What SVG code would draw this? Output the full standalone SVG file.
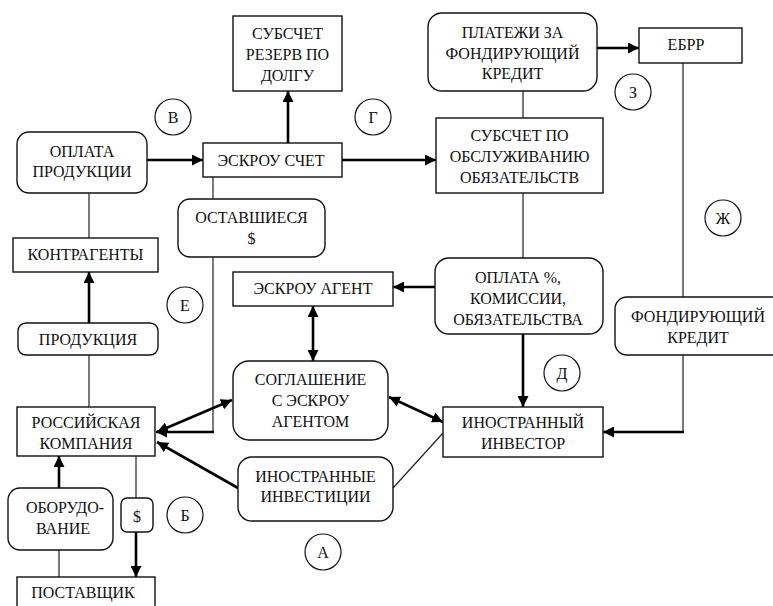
<svg xmlns="http://www.w3.org/2000/svg" width="773" height="606" viewBox="0 0 773 606">
<style>
text{font-family:"Liberation Serif","Times New Roman",serif;font-size:16px;fill:#111;text-anchor:middle}
.b{fill:#fff;stroke:#111;stroke-width:1.4}
.c{fill:#fff;stroke:#111;stroke-width:1.2}
.t{fill:none;stroke:#222;stroke-width:1.2}
.k{fill:none;stroke:#000;stroke-width:2.6}
.a{marker-end:url(#ah)}
.d{marker-start:url(#ah);marker-end:url(#ah)}
</style>
<defs>
<marker id="ah" markerUnits="userSpaceOnUse" markerWidth="12" markerHeight="11" refX="11" refY="5.5" orient="auto-start-reverse"><path d="M0,0 L11,5.5 L0,11 z" fill="#000"/></marker>
</defs>
<g id="connectors">
<line class="t" x1="213" y1="177" x2="213" y2="199"/>
<line class="t" x1="89" y1="193" x2="89" y2="238"/>
<line class="t" x1="523" y1="91" x2="523" y2="118"/>
<line class="t" x1="523" y1="193" x2="523" y2="258"/>
<line class="t" x1="683" y1="63" x2="683" y2="297"/>
<line class="t" x1="683" y1="355" x2="683" y2="433"/>
<line class="t" x1="213" y1="257" x2="213" y2="433"/>
<line class="t" x1="89" y1="355" x2="89" y2="407"/>
<line class="t" x1="136" y1="456" x2="136" y2="498"/>
<line class="t" x1="59" y1="550" x2="59" y2="577"/>
<line class="t" x1="443" y1="433" x2="393" y2="488"/>
<line class="k a" x1="147" y1="160" x2="203" y2="160"/>
<line class="k a" x1="288" y1="143" x2="288" y2="91"/>
<line class="k a" x1="342" y1="160" x2="436" y2="160"/>
<line class="k a" x1="597" y1="48" x2="639" y2="48"/>
<line class="k a" x1="435" y1="287" x2="393" y2="287"/>
<line class="k d" x1="313" y1="306" x2="313" y2="361"/>
<line class="k a" x1="523" y1="334" x2="523" y2="407"/>
<polyline class="k a" points="684,432 603,432"/>
<line class="k a" x1="89" y1="323" x2="89" y2="272"/>
<polyline class="k a" points="214,432 156,432"/>
<line class="k d" x1="232" y1="400" x2="157" y2="432"/>
<line class="k a" x1="238" y1="488" x2="157" y2="442"/>
<line class="k a" x1="59" y1="488" x2="59" y2="456"/>
<line class="k a" x1="136" y1="532" x2="136" y2="577"/>
<line class="k d" x1="389" y1="397" x2="443" y2="422"/>
</g>
<g id="n-reserve"><rect class="b" x="233" y="16" width="109" height="75"/><text x="287.5" y="39">СУБСЧЕТ</text><text x="287.5" y="60">РЕЗЕРВ ПО</text><text x="287.5" y="81">ДОЛГУ</text></g>
<g id="n-platezhi"><rect class="b" x="428" y="13" width="169" height="78" rx="14"/><text x="512.5" y="38">ПЛАТЕЖИ ЗА</text><text x="512.5" y="59">ФОНДИРУЮЩИЙ</text><text x="512.5" y="79">КРЕДИТ</text></g>
<g id="n-ebrr"><rect class="b" x="639" y="28" width="103" height="35"/><text x="686" y="50">ЕБРР</text></g>
<g id="n-oplata-prod"><rect class="b" x="17" y="132" width="130" height="61" rx="12"/><text x="82" y="157">ОПЛАТА</text><text x="82" y="177">ПРОДУКЦИИ</text></g>
<g id="n-escrow"><rect class="b" x="203" y="143" width="139" height="34"/><text x="271" y="166">ЭСКРОУ СЧЕТ</text></g>
<g id="n-obsl"><rect class="b" x="436" y="118" width="167" height="75"/><text x="519.5" y="141">СУБСЧЕТ ПО</text><text x="519.5" y="162">ОБСЛУЖИВАНИЮ</text><text x="519.5" y="183">ОБЯЗАТЕЛЬСТВ</text></g>
<g id="n-ostav"><rect class="b" x="178" y="199" width="147" height="58" rx="12"/><text x="251.5" y="223">ОСТАВШИЕСЯ</text><text x="251.5" y="244">$</text></g>
<g id="n-kontr"><rect class="b" x="13" y="238" width="145" height="34"/><text x="85.5" y="260">КОНТРАГЕНТЫ</text></g>
<g id="n-agent"><rect class="b" x="233" y="272" width="160" height="34"/><text x="313" y="294">ЭСКРОУ АГЕНТ</text></g>
<g id="n-oplata-pct"><rect class="b" x="435" y="258" width="168" height="76" rx="14"/><text x="518" y="283">ОПЛАТА %,</text><text x="518" y="304">КОМИССИИ,</text><text x="518" y="325">ОБЯЗАТЕЛЬСТВА</text></g>
<g id="n-fond"><rect class="b" x="615" y="297" width="170" height="58" rx="12"/><text x="698" y="322">ФОНДИРУЮЩИЙ</text><text x="698" y="343">КРЕДИТ</text></g>
<g id="n-prod"><rect class="b" x="18" y="323" width="140" height="32" rx="8"/><text x="88" y="345">ПРОДУКЦИЯ</text></g>
<g id="n-sogl"><rect class="b" x="233" y="361" width="155" height="79" rx="16"/><text x="310.5" y="385">СОГЛАШЕНИЕ</text><text x="310.5" y="406">С ЭСКРОУ</text><text x="310.5" y="427">АГЕНТОМ</text></g>
<g id="n-investor"><rect class="b" x="443" y="407" width="160" height="50"/><text x="523" y="428">ИНОСТРАННЫЙ</text><text x="523" y="449">ИНВЕСТОР</text></g>
<g id="n-ros"><rect class="b" x="17" y="407" width="138" height="49"/><text x="86" y="428">РОССИЙСКАЯ</text><text x="86" y="449">КОМПАНИЯ</text></g>
<g id="n-invest"><rect class="b" x="238" y="457" width="155" height="64" rx="14"/><text x="315.5" y="482">ИНОСТРАННЫЕ</text><text x="315.5" y="502">ИНВЕСТИЦИИ</text></g>
<g id="n-obor"><rect class="b" x="8" y="488" width="105" height="62" rx="12"/><text x="65" y="513">ОБОРУДО-</text><text x="63" y="534">ВАНИЕ</text></g>
<g id="n-dollar"><rect class="b" x="121" y="498" width="32" height="34" rx="6"/><text x="137" y="522">$</text></g>
<g id="n-post"><rect class="b" x="17" y="577" width="138" height="40"/><text x="83" y="598">ПОСТАВЩИК</text></g>
<g id="labels">
<circle class="c" cx="173" cy="117" r="18"/><text x="173" y="123">В</text>
<circle class="c" cx="373" cy="117" r="18"/><text x="373" y="123">Г</text>
<circle class="c" cx="633" cy="92" r="18"/><text x="633" y="98">З</text>
<circle class="c" cx="723" cy="218" r="18"/><text x="723" y="224">Ж</text>
<circle class="c" cx="185" cy="305" r="18"/><text x="185" y="311">Е</text>
<circle class="c" cx="562" cy="373" r="18"/><text x="562" y="379">Д</text>
<circle class="c" cx="185" cy="515" r="18"/><text x="185" y="521">Б</text>
<circle class="c" cx="323" cy="552" r="18"/><text x="323" y="558">А</text>
</g>
</svg>
